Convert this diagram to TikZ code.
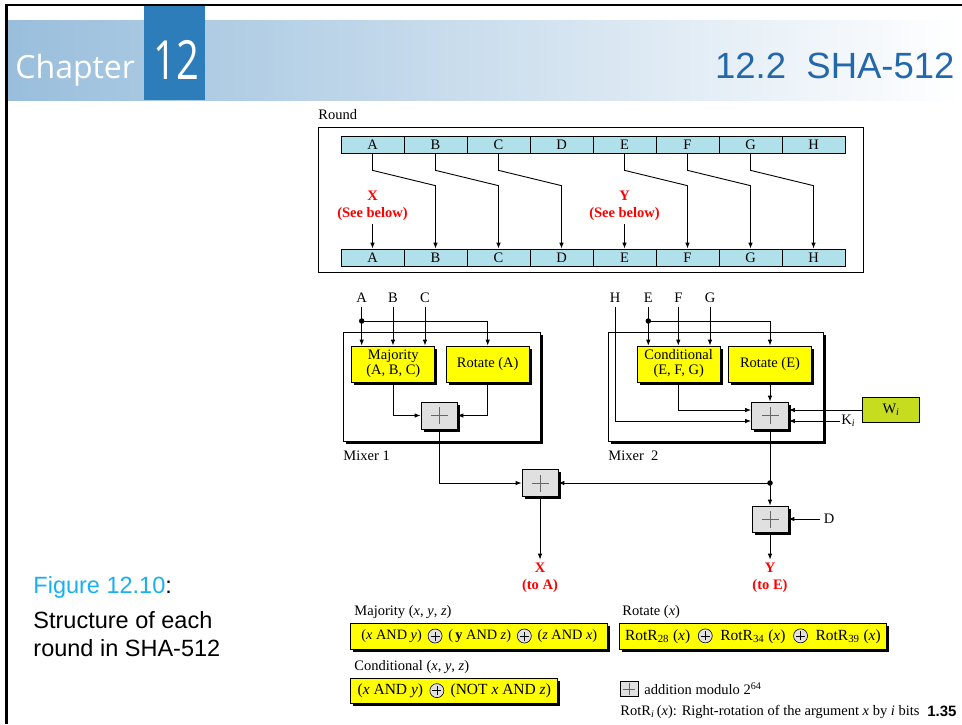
\documentclass[tikz,border=0pt]{standalone}
\usepackage{fontspec}
\setmainfont{Liberation Serif}
\newfontfamily\arialfont{Liberation Sans}
\newfontfamily\chapfont{Open Sans}
\usetikzlibrary{arrows.meta,shadows}

\definecolor{regcyan}{RGB}{176,224,234}
\definecolor{boxyellow}{RGB}{255,255,0}
\definecolor{wigreen}{RGB}{197,221,30}
\definecolor{addgray}{RGB}{224,224,224}
\definecolor{bandblue}{RGB}{153,190,220}
\definecolor{chapblue}{RGB}{46,125,187}
\definecolor{titleblue}{RGB}{36,104,172}
\definecolor{figcyan}{RGB}{26,176,240}
\definecolor{outred}{RGB}{255,0,0}

% circled plus used inside the formulas
\newcommand{\xorop}{\tikz[baseline=-0.6ex]{\draw[fill=addgray,line width=0.6pt] (0pt,0pt) circle (7pt);
  \draw[line width=0.6pt] (-4.5pt,0pt) -- (4.5pt,0pt) (0pt,-4.5pt) -- (0pt,4.5pt);}}

\begin{document}
\begin{tikzpicture}[x=1pt, y=-1pt, line width=0.9pt, >={Latex[length=6pt,width=4.5pt]},
  every node/.style={font=\fontsize{14.5}{16}\selectfont},
  cell/.style={draw, line width=0.7pt, fill=regcyan, minimum width=63pt, minimum height=17pt, inner sep=0pt},
  shadowed/.style={drop shadow={fill=black, opacity=1, shadow xshift=2.5pt, shadow yshift=-2.5pt}},
  func/.style={draw, fill=boxyellow, line width=0.7pt, shadowed, minimum width=83pt, minimum height=36pt,
    inner sep=1pt, align=center, font=\fontsize{14.5}{15}\selectfont},
  formula/.style={draw, fill=boxyellow, line width=0.7pt, shadowed, minimum height=26pt, inner sep=2pt,
    font=\fontsize{15.5}{16}\selectfont},
  adder/.style={draw, fill=addgray, line width=0.7pt, inner sep=0pt,
    path picture={\draw[black!60, line width=0.6pt]
      ([xshift=-#1]path picture bounding box.center) -- ([xshift=#1]path picture bounding box.center)
      ([yshift=-#1]path picture bounding box.center) -- ([yshift=#1]path picture bounding box.center);}},
  adder/.default=8.5pt,
  mixer/.style={draw, fill=white, line width=0.7pt, shadowed, inner sep=0pt},
  dot/.style={circle, fill=black, inner sep=0pt, minimum size=5.5pt},
  outtext/.style={text=outred, font=\fontsize{14.5}{16.5}\bfseries, align=center}]
  \useasboundingbox (0,0) rectangle (962,724);

  % Slide header
  \shade[left color=bandblue, right color=white] (7,20) rectangle (962,100);
  \fill[chapblue] (144,6) rectangle (205,100);
  \draw[line width=2.5pt] (962,5) -- (6.5,5) -- (6.5,724);
  \node[anchor=base west, inner sep=0pt, text=white, font=\chapfont\fontsize{32}{32}\selectfont] (chapword) at (15,78) {Chapter};
  \node[anchor=base, inner sep=0pt, text=white, xscale=0.74, font=\chapfont\fontsize{54}{54}\selectfont] (chapnum) at (176,79) {12};
  \node[anchor=base east, inner sep=0pt, text=titleblue, font=\arialfont\fontsize{36.5}{36.5}\selectfont] (title) at (955,78) {12.2\ \ SHA-512};

  % Caption
  \node[anchor=base west, inner sep=0pt, text=figcyan, font=\arialfont\fontsize{23.5}{28}\selectfont] (figlab) at (33,593) {Figure 12.10\textcolor{black}{:}};
  \node[anchor=base west, inner sep=0pt, font=\arialfont\fontsize{23.5}{28}\selectfont] (figtxt1) at (33,628) {Structure of each};
  \node[anchor=base west, inner sep=0pt, font=\arialfont\fontsize{23.5}{28}\selectfont] (figtxt2) at (33,656) {round in SHA-512};

  % Round
  \node[anchor=west, inner sep=0pt] (roundlab) at (318,115) {Round};
  \draw[line width=0.7pt] (318,127) rectangle (863,272);
  \foreach \l [count=\i from 0] in {A,B,C,D,E,F,G,H} {
    \node[cell] (top\l) at ({372.5+63*\i},144.5) {\l};
    \node[cell] (bot\l) at ({372.5+63*\i},257.5) {\l};
  }
  \foreach \a/\b in {A/B,B/C,C/D,E/F,F/G,G/H}
    \draw[->] (top\a.south) -- ++(0,17) -- ([yshift=63pt]bot\b.north) -- (bot\b.north);
  \node[outtext] (xsee) at (372.5,206) {X\\(See below)};
  \node[outtext] (ysee) at (624.5,206) {Y\\(See below)};
  \draw[->] (xsee.south) -- (botA.north);
  \draw[->] (ysee.south) -- (botE.north);

  % Mixer 1
  \node[mixer, minimum width=196.5pt, minimum height=109pt] (mixA) at (441.75,386.5) {};
  \node[anchor=west, inner sep=0pt] (mixAlab) at (343,456) {Mixer 1};
  \node (inA) at (361.7,298) {A};
  \node (inB) at (393,298) {B};
  \node (inC) at (425,298) {C};
  \node[func] (maj) at (393.3,364) {Majority\\(A, B, C)};
  \node[func] (rotA) at (487.7,364) {Rotate (A)};
  \node[adder, shadowed, minimum width=36pt, minimum height=27pt] (addA) at (439,415.5) {};
  \node[dot] (dotA) at (361.7,321) {};
  \draw[->] (inA.south) -- (inA.south |- maj.north);
  \draw[->] (inB.south) -- (inB.south |- maj.north);
  \draw[->] (inC.south) -- (inC.south |- maj.north);
  \draw[->] (dotA.center) -| (rotA.north);
  \draw[->] (maj.south) |- (addA.west);
  \draw[->] (rotA.south) |- (addA.east);

  % Mixer 2
  \node[mixer, minimum width=215pt, minimum height=109pt] (mixE) at (715.8,386.5) {};
  \node[anchor=west, inner sep=0pt] (mixElab) at (608,456) {Mixer\ \ 2};
  \node (inH) at (615,298) {H};
  \node (inE) at (648.3,298) {E};
  \node (inF) at (678.3,298) {F};
  \node (inG) at (710,298) {G};
  \node[func] (cond) at (678.7,364) {Conditional\\(E, F, G)};
  \node[func] (rotE) at (770,364) {Rotate (E)};
  \node[adder, shadowed, minimum width=37pt, minimum height=27pt] (addE) at (770,415.5) {};
  \node[dot] (dotE) at (648.3,321) {};
  \draw[->] (inE.south) -- (inE.south |- cond.north);
  \draw[->] (inF.south) -- (inF.south |- cond.north);
  \draw[->] (inG.south) -- (inG.south |- cond.north);
  \draw[->] (dotE.center) -| (rotE.north);
  \draw[->] (rotE.south) -- (addE.north);
  \draw[->] (cond.south) |- ([yshift=5.5pt]addE.west);
  \draw[->] (inH.south) |- ([yshift=-5.5pt]addE.west);
  \node[draw, line width=0.7pt, fill=wigreen, minimum width=56.5pt, minimum height=25pt] (wi) at (891,410) {W\textsubscript{\textit{i}}};
  \node[anchor=west, inner sep=1pt] (ki) at (840,421) {K\textsubscript{\textit{i}}};
  \draw[->] (wi.west) -- (wi.west -| addE.east);
  \draw[->] (ki.west) -- (ki.west -| addE.east);

  % Combining the two mixers
  \node[adder, shadowed, minimum width=36pt, minimum height=27pt] (addX) at (540,483) {};
  \node[adder, shadowed, minimum width=36pt, minimum height=26pt] (addY) at (770,519) {};
  \node[dot] (dotY) at (770,483) {};
  \node (inD) at (829,519) {D};
  \draw[->] (addA.south) |- (addX.west);
  \draw (addE.south) -- (dotY.center);
  \draw[->] (dotY.center) -- (addX.east);
  \draw[->] (dotY.center) -- (addY.north);
  \draw[->] (inD.west) -- (addY.east);
  \node[outtext] (xout) at (540,578) {X\\(to A)};
  \node[outtext] (yout) at (770,578) {Y\\(to E)};
  \draw[->] (addX.south) -- (xout.north);
  \draw[->] (addY.south) -- (yout.north);

  % Function definitions
  \node[anchor=west, inner sep=0pt] (majname) at (354,611.7) {Majority (\textit{x}, \textit{y}, \textit{z})};
  \node[formula, minimum width=257pt, font=\fontsize{14.3}{16}\selectfont] (majform) at (479.3,636)
    {(\textit{x} AND \textit{y})\ \,\xorop\,\ (\,\textbf{y} AND \textit{z})\ \,\xorop\,\ (\textit{z} AND \textit{x})};
  \node[anchor=west, inner sep=0pt] (rotname) at (622,611.7) {Rotate (\textit{x})};
  \node[formula, minimum width=267pt] (rotform) at (752.9,636)
    {RotR\textsubscript{28} (\textit{x}) \ \xorop\ \ RotR\textsubscript{34} (\textit{x}) \ \xorop\ \ RotR\textsubscript{39} (\textit{x})};
  \node[anchor=west, inner sep=0pt] (condname) at (354,666.7) {Conditional (\textit{x}, \textit{y}, \textit{z})};
  \node[formula, minimum width=207pt, minimum height=25pt] (condform) at (454.3,690.8)
    {(\textit{x} AND \textit{y})\,\ \xorop\,\ (NOT \textit{x} AND \textit{z})\hspace{12pt}};
  \node[adder=6pt, minimum width=18pt, minimum height=15pt] (legadd) at (629.3,689.2) {};
  \node[anchor=west, inner sep=0pt] (legtxt) at (644,689) {addition modulo 2\textsuperscript{64}};
  \node[anchor=west, inner sep=0pt] (rotrtxt) at (620,711.7)
    {RotR\textsubscript{\textit{i}}\,(\textit{x}): Right-rotation of the argument \textit{x} by \textit{i} bits};
  \node[anchor=east, inner sep=0pt, font=\arialfont\bfseries\fontsize{15}{15}\selectfont] (pagenum) at (957,711.7) {1.35};
\end{tikzpicture}
\end{document}
